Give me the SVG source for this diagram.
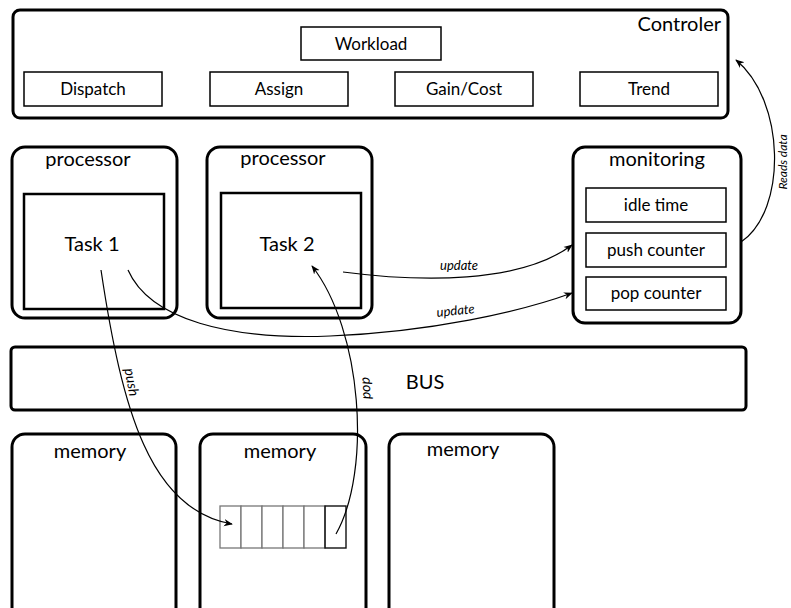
<svg xmlns="http://www.w3.org/2000/svg" width="791" height="608" viewBox="0 0 791 608">
<defs>
<marker id="ah" viewBox="0 0 10 10" refX="9" refY="5" markerWidth="9" markerHeight="9" markerUnits="userSpaceOnUse" orient="auto">
<path d="M0,1 L10,5 L0,9 L3,5 Z" fill="#000"/>
</marker>
</defs>
<style>
text{font-family:Lato,"Liberation Sans",sans-serif;fill:#000}
.big{font-size:20px;text-anchor:middle}
.med{font-size:17px;text-anchor:middle}
.lbl{font-size:13px;font-style:italic;text-anchor:middle}
.outer{fill:#fff;stroke:#000;stroke-width:3}
.inner{fill:#fff;stroke:#000;stroke-width:2.5}
.box{fill:#fff;stroke:#000;stroke-width:1.5}
.cell{fill:#fff;stroke:#777;stroke-width:1.3}
.conn{fill:none;stroke:#000;stroke-width:1.2}
</style>
<rect width="791" height="608" fill="#fff"/>

<g id="controller">
<rect class="outer" x="13" y="10" width="715" height="108" rx="7"/>
<text x="721" y="31" font-size="20" text-anchor="end">Controler</text>
</g>
<g id="workload"><rect class="box" x="301" y="27" width="140" height="33"/><text class="med" x="371" y="50">Workload</text></g>
<g id="dispatch"><rect class="box" x="24" y="72" width="138" height="34"/><text class="med" x="93" y="95">Dispatch</text></g>
<g id="assign"><rect class="box" x="210" y="72" width="138" height="34"/><text class="med" x="279" y="95">Assign</text></g>
<g id="gaincost"><rect class="box" x="395" y="72" width="138" height="34"/><text class="med" x="464" y="95">Gain/Cost</text></g>
<g id="trend"><rect class="box" x="580" y="72" width="138" height="34"/><text class="med" x="649" y="95">Trend</text></g>

<g id="processor1">
<rect class="outer" x="12" y="147" width="165" height="171" rx="13"/>
<text class="big" x="88" y="166">processor</text>
<rect class="inner" x="24" y="194" width="140" height="115"/>
<text class="big" x="92" y="251">Task 1</text>
</g>
<g id="processor2">
<rect class="outer" x="207" y="147" width="165" height="171" rx="13"/>
<text class="big" x="283" y="165">processor</text>
<rect class="inner" x="221" y="193" width="140" height="115"/>
<text class="big" x="287" y="251">Task 2</text>
</g>

<g id="monitoring">
<rect class="outer" x="573" y="147" width="168" height="176" rx="12"/>
<text class="big" x="657" y="166">monitoring</text>
</g>
<g id="idletime"><rect class="box" x="586" y="188" width="140" height="34"/><text class="med" x="656" y="211">idle time</text></g>
<g id="pushcounter"><rect class="box" x="586" y="233" width="140" height="34"/><text class="med" x="656" y="256">push counter</text></g>
<g id="popcounter"><rect class="box" x="586" y="277" width="140" height="33"/><text class="med" x="656" y="299">pop counter</text></g>

<g id="bus">
<rect class="outer" x="11" y="347" width="735" height="63" rx="4"/>
<text x="425" y="389" font-size="20" text-anchor="middle">BUS</text>
</g>

<g id="memory1">
<rect class="outer" x="12" y="434" width="164" height="190" rx="13"/>
<text class="big" x="90" y="458">memory</text>
</g>
<g id="memory2">
<rect class="outer" x="200" y="434" width="166" height="190" rx="13"/>
<text class="big" x="280" y="458">memory</text>
</g>
<g id="memory3">
<rect class="outer" x="389" y="434" width="165" height="190" rx="13"/>
<text class="big" x="463" y="456">memory</text>
</g>

<g id="queue">
<rect class="cell" x="220" y="506" width="21" height="42"/>
<rect class="cell" x="241" y="506" width="21" height="42"/>
<rect class="cell" x="262" y="506" width="21" height="42"/>
<rect class="cell" x="283" y="506" width="21" height="42"/>
<rect class="cell" x="304" y="506" width="21" height="42"/>
<rect x="325" y="506" width="21" height="42" fill="none" stroke="#111" stroke-width="1.4"/>
</g>

<g id="connectors">
<path class="conn" d="M101,270 C 122,410 150,510 232,524" marker-end="url(#ah)"/>
<path class="conn" d="M336,534 C 372,470 362,330 312,266" marker-end="url(#ah)"/>
<path class="conn" d="M343,272 C 420,282 520,284 572,245" marker-end="url(#ah)"/>
<path class="conn" d="M128,270 C 150,320 230,340 330,336 C 430,332 520,312 572,293" marker-end="url(#ah)"/>
<path class="conn" d="M741,242 C 788,210 785,100 736,60" marker-end="url(#ah)"/>
<text class="lbl" font-size="14" transform="translate(127,383) rotate(80)" style="font-size:14px">push</text>
<text class="lbl" transform="translate(370,388) rotate(-92)" style="font-size:14px">pop</text>
<text class="lbl" x="459" y="270">update</text>
<text class="lbl" transform="translate(456,315) rotate(-6)">update</text>
<text class="lbl" transform="translate(787,162) rotate(-90)" style="font-size:12px">Reads data</text>
</g>
</svg>
